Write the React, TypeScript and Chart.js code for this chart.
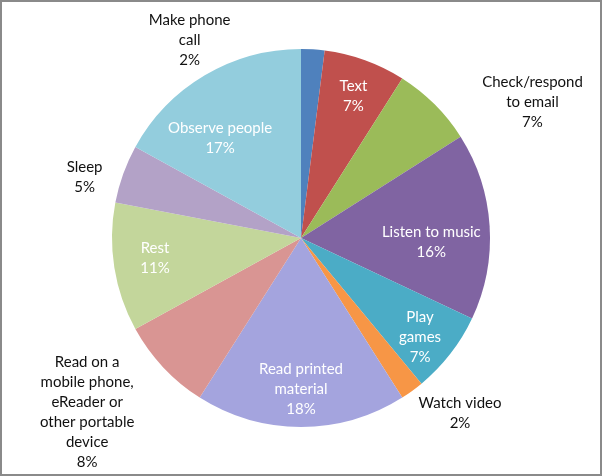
import React, { useEffect, useRef } from "react";
import { Chart, registerables } from "chart.js";

Chart.register(...registerables);

const categories = [
  "Make phone call",
  "Text",
  "Check/respond to email",
  "Listen to music",
  "Play games",
  "Watch video",
  "Read printed material",
  "Read on a mobile phone, eReader or other portable device",
  "Rest",
  "Sleep",
  "Observe people",
];
const values = [2, 7, 7, 16, 7, 2, 18, 8, 11, 5, 17];
const labelLines = [
  ["Make phone", "call"],
  ["Text"],
  ["Check/respond", "to email"],
  ["Listen to music"],
  ["Play", "games"],
  ["Watch video"],
  ["Read printed", "material"],
  ["Read on a", "mobile phone,", "eReader or", "other portable", "device"],
  ["Rest"],
  ["Sleep"],
  ["Observe people"],
];
const colors = [
  "#4F81BD",
  "#C0504D",
  "#9BBB59",
  "#8064A2",
  "#4BACC6",
  "#F79646",
  "#A4A4DE",
  "#D99593",
  "#C3D69B",
  "#B3A2C7",
  "#93CDDD",
];
const labelInside = [false, true, false, true, true, false, true, false, true, false, true];
const labelRadius = [1.2, 0.8, 1.42, 0.69, 0.82, 1.25, 0.8, 1.46, 0.78, 1.19, 0.68];
const labelAngleShift = [-33, 0.5, 14.6, 5.6, 2, -6.3, 0, 4, 1, -4, -8.4];

const FONT = "Lato, 'Open Sans', sans-serif";

const labelPlugin = {
  id: "sliceLabels",
  afterDatasetsDraw(chart: any) {
    const ctx = chart.ctx;
    const meta = chart.getDatasetMeta(0);
    const total = values.reduce((a, b) => a + b, 0);
    ctx.save();
    ctx.font = `15px ${FONT}`;
    ctx.textAlign = "center";
    ctx.textBaseline = "middle";
    meta.data.forEach((arc: any, i: number) => {
      const { x, y, startAngle, endAngle, outerRadius } = arc.getProps(
        ["x", "y", "startAngle", "endAngle", "outerRadius"],
        true
      );
      const mid = (startAngle + endAngle) / 2 + (labelAngleShift[i] * Math.PI) / 180;
      const r = outerRadius * labelRadius[i];
      const cx = x + Math.cos(mid) * r;
      const cy = y + Math.sin(mid) * r;
      const lines = [...labelLines[i], Math.round((values[i] / total) * 100) + "%"];
      const lh = 20;
      const top = cy - ((lines.length - 1) * lh) / 2;
      ctx.fillStyle = labelInside[i] ? "#ffffff" : "#111111";
      lines.forEach((ln, k) => ctx.fillText(ln, cx, top + k * lh));
    });
    ctx.restore();
  },
};

export default function App() {
  const ref = useRef<HTMLCanvasElement>(null);
  useEffect(() => {
    document.body.style.margin = "0";
    const chart = new Chart(ref.current!, {
      type: "pie",
      data: {
        labels: categories,
        datasets: [
          {
            data: values,
            backgroundColor: colors,
            borderWidth: 0,
          },
        ],
      },
      options: {
        animation: false,
        responsive: false,
        layout: { padding: { left: 112, right: 112, top: 49, bottom: 49 } },
        plugins: { legend: { display: false }, tooltip: { enabled: false } },
      },
      plugins: [labelPlugin],
    });
    return () => chart.destroy();
  }, []);
  return (
    <div style={{ position: "relative", width: 602, height: 476, background: "#fff" }}>
      <canvas ref={ref} width={602} height={476} style={{ display: "block" }} />
      <div
        style={{
          position: "absolute",
          inset: 0,
          border: "2px solid #8a8a8a",
          boxSizing: "border-box",
          pointerEvents: "none",
        }}
      />
    </div>
  );
}
